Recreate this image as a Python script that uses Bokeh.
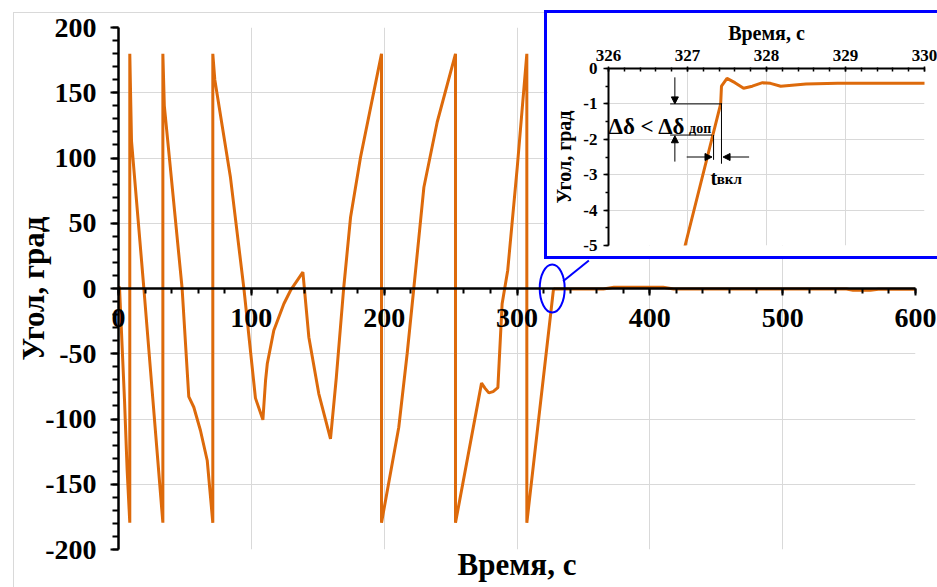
from bokeh.plotting import figure
from bokeh.models import (Range1d, LinearAxis, SingleIntervalTicker, FixedTicker, Grid,
                          Arrow, NormalHead, ColumnDataSource, NumeralTickFormatter, Div)
from bokeh.layouts import column
from bokeh.embed import file_html
from bokeh.resources import INLINE
from bokeh.core.properties import value

# ---------------- data ----------------
time_s = [
    0.0, 0.3, 0.8, 4.5, 6.5, 8.5,
    8.5, 9.8, 19.1, 33.4,
    33.4, 34.5, 47.9, 52.9, 56.7, 61.7, 66.8, 71.0,
    71.0, 72.5, 84.3, 94.4, 103.1, 108.7,
    110.7, 112.0, 116.9, 124.5, 129.5, 138.8,
    143.3, 150.8, 159.6,
    164.0, 169.5, 174.7, 182.2, 198.0,
    198.0, 211.0, 217.3, 222.3, 229.9, 239.9, 253.7,
    253.7, 273.3, 276.0, 278.8, 282.0, 285.6, 288.8, 293.0, 300.2, 307.4,
    307.4, 326.97, 327.42, 327.43, 327.50, 327.60, 327.71, 327.82, 327.95, 328.05,
    328.18, 328.5, 328.9, 330.0,
    365.0, 373.0, 410.0, 418.0, 548.0, 553.0, 566.0, 572.0, 600.0,
]
angle_deg = [
    0.0, 1.5, 0.0, -85.0, -139.0, -179.5,
    179.8, 113.0, 0.0, -179.5,
    179.8, 140.0, 0.0, -82.8, -91.0, -108.8, -131.8, -179.5,
    179.8, 160.0, 85.0, 0.0, -84.0, -100.6,
    -70.5, -57.7, -32.2, -11.7, -1.5, 12.5,
    -37.3, -80.7, -115.2,
    -68.0, 0.0, 54.6, 100.6, 179.8,
    -179.5, -106.3, -50.0, 0.0, 77.6, 127.4, 179.8,
    -179.5, -72.5, -76.5, -80.0, -79.0, -76.0, -11.7, 13.8, 93.0, 179.8,
    -179.5, -5.0, -1.0, -0.5, -0.28, -0.40, -0.56, -0.50, -0.40, -0.42,
    -0.50, -0.44, -0.42, -0.42,
    -0.42, 1.0, 1.0, -0.42, -0.42, -1.3, -1.3, -0.6, -0.6,
]

x_title = "Время, с"
y_title = "Угол, град"

# zoom marker on the main chart (ellipse + connector to inset)
marker_x = [326.5]
marker_y = [0.0]
marker_w = [18.8]
marker_h = [36.8]
connector_x0 = [334.7]
connector_y0 = [5.6]
connector_x1 = [354.1]
connector_y1 = [21.5]

# annotation of the inset
hline_x0 = [326.78, 326.78]
hline_x1 = [327.43, 327.31]
hline_y = [-1.0, -1.88]
vline_x = [327.33, 327.43]
vline_y0 = [-1.88, -0.98]
vline_y1 = [-2.58, -2.69]
arrow_x0 = [326.84, 326.84, 326.99, 327.78]
arrow_y0 = [-0.25, -2.63, -2.5, -2.5]
arrow_x1 = [326.84, 326.84, 327.31, 327.45]
arrow_y1 = [-1.0, -1.90, -2.5, -2.5]
delta_text = ["Δδ < Δδ"]
delta_x = [326.0]
delta_y = [-1.63]
delta_sub = ["доп"]
delta_sub_x = [327.02]
delta_sub_y = [-1.70]
t_text = ["t"]
t_x = [327.29]
t_y = [-3.10]
t_sub = ["вкл"]
t_sub_x = [327.37]
t_sub_y = [-3.13]

ORANGE = "#DD6A0B"
GRID = "#d9d9d9"
FONT = "Liberation Serif"

W, H = 937, 587
BORDER_L, BORDER_R, BORDER_T, BORDER_B = 118, 22, 27, 38

# ---------------- main figure ----------------
p = figure(width=W, height=H, x_range=Range1d(0, 600), y_range=Range1d(-200, 200),
           output_backend="svg", toolbar_location=None, x_axis_type=None,
           min_border_left=BORDER_L, min_border_right=BORDER_R,
           min_border_top=BORDER_T, min_border_bottom=BORDER_B)
p.frame_align = False
p.outline_line_color = None
p.background_fill_color = "white"
p.border_fill_color = "white"

ya = p.yaxis[0]
ya.ticker = SingleIntervalTicker(interval=50, num_minor_ticks=5)
ya.formatter = NumeralTickFormatter(format="0")
ya.axis_label = y_title
ya.axis_label_text_font = FONT
ya.axis_label_text_font_style = "bold"
ya.axis_label_text_font_size = "31px"
ya.axis_label_text_color = "black"
ya.axis_label_standoff = -9
ya.major_label_text_font = FONT
ya.major_label_text_font_style = "bold"
ya.major_label_text_font_size = "28px"
ya.major_label_text_color = "black"
ya.major_label_standoff = 14
ya.axis_line_width = 2.5
ya.axis_line_color = "black"
ya.major_tick_out = 8
ya.major_tick_in = 0
ya.minor_tick_out = 6
ya.minor_tick_in = 0
ya.major_tick_line_width = 2
ya.minor_tick_line_width = 2

x_ticker = SingleIntervalTicker(interval=100, num_minor_ticks=5)

xt = LinearAxis(ticker=FixedTicker(ticks=[]), axis_label=x_title)
xt.axis_line_color = None
xt.major_tick_out = 0
xt.minor_tick_out = 0
xt.major_label_text_font_size = "0px"
xt.axis_label_text_font = FONT
xt.axis_label_text_font_style = "bold"
xt.axis_label_text_font_size = "31px"
xt.axis_label_text_color = "black"
xt.axis_label_standoff = -3
p.add_layout(xt, "below")

p.ygrid.grid_line_color = GRID
p.ygrid.grid_line_width = 1
p.add_layout(Grid(dimension=0, ticker=x_ticker, grid_line_color=GRID, grid_line_width=1))

p.line(time_s, angle_deg, line_color=ORANGE, line_width=3)

p.ellipse(x=marker_x, y=marker_y, width=marker_w, height=marker_h,
          fill_color=None, line_color="blue", line_width=2)
p.segment(x0=connector_x0, y0=connector_y0, x1=connector_x1, y1=connector_y1,
          line_color="blue", line_width=2)

# ------------- transparent overlay carrying the x axis that crosses at angle = 0 -------------
# its frame spans angle 0..200 of the main chart, so its bottom axis lies on angle = 0
OV_H = 350
frame_h = H - BORDER_T - BORDER_B
ov = figure(width=W, height=OV_H, x_range=p.x_range, y_range=Range1d(0, 200),
            output_backend="svg", toolbar_location=None, y_axis_type=None, x_axis_type=None,
            min_border_left=BORDER_L, min_border_right=BORDER_R,
            min_border_top=BORDER_T, min_border_bottom=OV_H - BORDER_T - frame_h // 2)
ov.frame_align = False
ov.outline_line_color = None
ov.background_fill_color = None
ov.border_fill_color = None
ov.grid.visible = False
ov.styles = {"position": "absolute", "left": "0px", "top": "0px", "z-index": "5",
             "pointer-events": "none"}
xa = LinearAxis(ticker=x_ticker, formatter=NumeralTickFormatter(format="0"))
xa.major_label_text_font = FONT
xa.major_label_text_font_style = "bold"
xa.major_label_text_font_size = "28px"
xa.major_label_text_color = "black"
xa.major_label_standoff = 13
xa.axis_line_width = 2.5
xa.major_tick_out = 7
xa.major_tick_in = 0
xa.minor_tick_out = 5
xa.minor_tick_in = 0
xa.major_tick_line_width = 2
xa.minor_tick_line_width = 2
ov.add_layout(xa, "below")

# ---------------- inset ----------------
ins = figure(width=390, height=243, x_range=Range1d(326, 330), y_range=Range1d(-5, 0),
             output_backend="svg", toolbar_location=None, x_axis_location="above",
             min_border_left=61, min_border_right=13, min_border_top=55, min_border_bottom=11)
ins.frame_align = False
ins.outline_line_color = None
ins.background_fill_color = "white"
ins.border_fill_color = "white"
ins.styles = {"position": "absolute", "left": "547px", "top": "13px", "z-index": "10",
              "outline": "3px solid blue"}

ix = ins.xaxis[0]
ix.ticker = SingleIntervalTicker(interval=1, num_minor_ticks=5)
iy = ins.yaxis[0]
iy.ticker = SingleIntervalTicker(interval=1, num_minor_ticks=2)
iy.formatter = NumeralTickFormatter(format="0")
for ax in (ix, iy):
    ax.major_label_text_font = FONT
    ax.major_label_text_font_style = "bold"
    ax.major_label_text_font_size = "17px"
    ax.major_label_text_color = "black"
    ax.axis_label_text_font = FONT
    ax.axis_label_text_font_style = "bold"
    ax.axis_label_text_font_size = "20px"
    ax.axis_label_text_color = "black"
    ax.axis_line_width = 2
    ax.major_tick_line_width = 1.5
    ax.minor_tick_line_width = 1.5
ix.axis_label = x_title
ix.major_tick_out = 2
ix.major_tick_in = 3
ix.minor_tick_out = 1
ix.minor_tick_in = 3
ix.major_label_standoff = 6
ix.axis_label_standoff = 3
iy.axis_label = y_title
iy.major_tick_out = 5
iy.major_tick_in = 0
iy.minor_tick_out = 3
iy.minor_tick_in = 0
iy.major_label_standoff = 6
iy.axis_label_standoff = 5

ins.xgrid.grid_line_color = GRID
ins.ygrid.grid_line_color = GRID

ins.line(time_s, angle_deg, line_color=ORANGE, line_width=3)

ins.segment(x0=hline_x0, y0=hline_y, x1=hline_x1, y1=hline_y, line_color="black", line_width=1)
ins.segment(x0=vline_x, y0=vline_y0, x1=vline_x, y1=vline_y1, line_color="black", line_width=1)
arrow_src = ColumnDataSource(dict(x0=arrow_x0, y0=arrow_y0, x1=arrow_x1, y1=arrow_y1))
ins.add_layout(Arrow(source=arrow_src, x_start="x0", y_start="y0", x_end="x1", y_end="y1",
                     line_color="black", line_width=1,
                     end=NormalHead(size=7, line_color="black", line_width=1, fill_color="black")))

txt_kw = dict(text_font=value(FONT), text_font_style="bold", text_color="black",
              text_baseline="alphabetic", text_align="left")
ins.text(x=delta_x, y=delta_y, text=delta_text, text_font_size="23px", **txt_kw)
ins.text(x=delta_sub_x, y=delta_sub_y, text=delta_sub, text_font_size="14px", **txt_kw)
ins.text(x=t_x, y=t_y, text=t_text, text_font_size="20px", **txt_kw)
ins.text(x=t_sub_x, y=t_sub_y, text=t_sub, text_font_size="15px", **txt_kw)

# light-grey chart-area border (left, top and bottom edges)
border = Div(text="", width=920, height=576,
             styles={"position": "absolute", "left": "8px", "top": "7px", "z-index": "4",
                     "border-left": "1px solid #d9d9d9", "border-top": "1px solid #d9d9d9",
                     "border-bottom": "1px solid #d9d9d9", "pointer-events": "none",
                     "background": "transparent"})

layout = column(p, ov, ins, border)
open("out.html", "w").write(file_html(layout, INLINE))
